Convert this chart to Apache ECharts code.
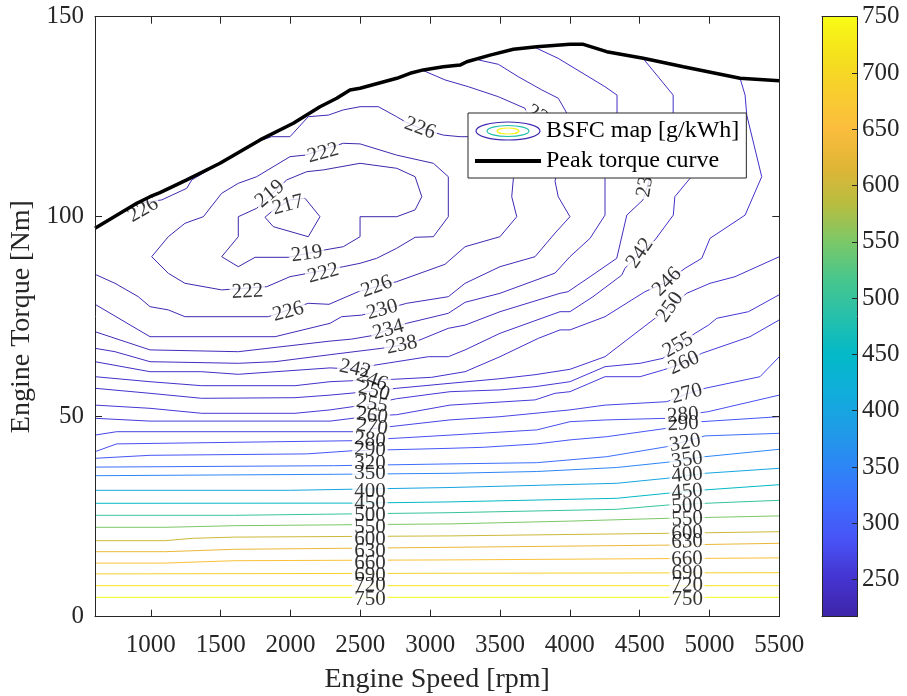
<!DOCTYPE html>
<html><head><meta charset="utf-8">
<script src="https://cdn.jsdelivr.net/npm/echarts@6/dist/echarts.min.js"></script>
<style>html,body{margin:0;padding:0;background:#fff}#c{width:907px;height:696px}</style>
</head><body><div id="c"></div>
<script>
// ---------- data (rpm, Nm) ----------
const xTicks = [1000,1500,2000,2500,3000,3500,4000,4500,5000,5500];
const yTicks = [0,50,100,150];
const cbTicks = [250,300,350,400,450,500,550,600,650,700,750];
const cbMin = 217, cbMax = 750;

const peakTorque = [[600,97.1],[899,103.35],[994,105.0],[1065,106.0],[1257,109.2],[1495,113.35],[1782,119.2],[2020,123.35],[2211,127.5],[2331,129.6],[2426,131.7],[2498,132.1],[2761,134.6],[2856,135.85],[2951,136.7],[3094,137.5],[3214,137.9],[3262,138.75],[3429,140.4],[3596,141.85],[3763,142.5],[4001,143.1],[4097,143.1],[4264,141.25],[4526,139.6],[4813,137.5],[5219,134.6],[5500,134.0]];

const contour217 = [[2104,104.6],[2211,100.0],[2127,95.0],[1877,97.5],[1817,99.85],[1872,101.5],[1996,104.2],[2104,104.6]];
const contour219 = [[1758,102.1],[1626,100.0],[1626,95.0],[1507,90.0],[1626,87.5],[1746,89.85],[1984,89.85],[2247,91.7],[2378,92.5],[2498,95.0],[2498,100.0],[2761,100.0],[2892,101.7],[2940,105.0],[2892,110.0],[2761,112.1],[2498,113.35],[2235,111.7],[2116,111.25],[1973,109.2],[1758,102.1]];
const contour222 = [[2104,115.4],[2378,118.35],[2498,118.2],[2760,115.4],[3023,113.35],[3130,110.0],[3130,100.0],[3023,95.0],[2892,94.85],[2760,92.1],[2617,89.6],[2498,88.35],[2378,87.5],[1996,85.0],[1830,82.5],[1507,81.7],[1244,83.35],[1125,85.85],[1006,90.0],[1125,95.0],[1244,98.35],[1376,100.0],[1507,105.85],[1626,108.35],[1758,110.0],[1996,115.0],[2104,115.4]];
const contour226 = [[899,103.3],[1078,104.2],[1257,107.1],[1293,109.2],[1495,113.35],[1746,118.6],[1865,120.0],[1996,120.0],[2127,125.0],[2271,125.4],[2378,126.7],[2498,127.5],[2629,127.5],[2760,125.0],[2820,123.75],[2927,122.1],[3094,120.4],[3214,120.0],[3273,120.0],[3596,109.6],[3584,105.0],[3620,100.0],[3500,95.0],[3250,92.5],[3106,88.1],[2760,83.75],[2617,82.5],[2485,81.25],[2276,78.1],[2127,78.35],[1984,76.7],[1841,75.0],[1244,75.0],[1125,76.7],[994,77.5],[910,80.0],[743,83.35],[600,85.6]];
const contour230 = [[600,78.1],[994,70.0],[1889,70.0],[2283,73.35],[2366,75.0],[2509,75.4],[2657,76.7],[2832,78.35],[3130,80.0],[3250,83.35],[3500,87.5],[3751,90.0],[3894,95.9],[4001,100.0],[3917,105.0],[3894,108.9],[3906,110.5],[3679,127.1],[3488,130.0],[3273,132.5],[3106,134.2],[2940,136.7]];
const contour234 = [[600,71.25],[994,66.7],[1626,66.25],[2283,68.9],[2438,69.4],[2581,70.25],[2700,71.7],[2832,73.35],[3130,75.85],[3250,78.6],[3500,80.85],[3894,85.9],[4001,90.0],[4145,94.6],[4252,100.4],[4252,109.6],[3986,125.4],[3918,129.6],[3799,131.7],[3631,135.0],[3488,138.1],[3345,139.2]];
const contour238 = [[600,67.1],[743,66.25],[994,63.75],[1626,63.35],[1889,63.75],[2283,65.5],[2653,67.1],[2796,67.9],[2927,69.2],[3130,72.1],[3250,72.9],[3500,76.25],[3930,80.85],[3987,81.25],[4145,85.0],[4336,89.6],[4408,100.4],[4524,104.2],[4574,109.6],[4338,125.4],[4338,130.4],[4252,132.5],[3916,139.6],[3751,142.3]];
const contour242 = [[600,63.75],[994,61.25],[1364,61.25],[1626,60.6],[2283,62.2],[2462,61.9],[2605,62.9],[2987,65.0],[3130,65.0],[3250,66.7],[3500,70.85],[3930,76.25],[4001,76.25],[4166,80.0],[4372,85.4],[4395,87.1],[4503,90.9],[4610,94.2],[4741,100.4],[4752,105.0],[4861,109.6],[4740,125.4],[4740,130.4],[4524,139.6]];
const contour246 = [[600,60.0],[994,58.75],[1364,57.75],[2032,57.75],[2283,58.75],[2584,59.2],[2736,59.35],[3011,59.85],[3250,61.25],[3500,65.0],[3775,69.6],[3930,71.7],[4001,71.7],[4252,75.0],[4538,81.25],[4696,83.7],[4825,87.1],[4945,89.6],[5004,94.6],[5255,100.4],[5374,110.0],[5267,125.4],[5255,130.4],[5219,134.6]];
const contour250 = [[600,57.1],[994,55.85],[1364,54.6],[2032,54.75],[2283,55.4],[2598,56.4],[2760,57.1],[3142,58.35],[3500,59.5],[3751,60.5],[4001,61.85],[4252,65.0],[4610,74.6],[4718,77.4],[4837,80.85],[5004,83.35],[5183,85.0],[5500,90.0]];
const contour255 = [[600,52.9],[994,52.1],[1364,50.85],[2032,50.85],[2283,51.7],[2584,53.2],[2760,54.5],[3142,56.25],[3500,56.7],[3751,57.5],[4001,58.75],[4252,62.5],[4503,63.35],[4667,64.6],[4775,67.9],[4897,70.85],[4993,72.9],[5052,74.6],[5279,76.25],[5500,80.5]];
const contour260 = [[600,49.6],[994,48.9],[2283,48.9],[2584,50.2],[2760,50.5],[3142,52.9],[3751,54.2],[3894,55.85],[4001,56.25],[4252,60.0],[4503,60.0],[4670,61.7],[4818,63.4],[4945,65.85],[5290,70.0],[5500,74.2]];
const contour270 = [[600,45.4],[755,46.25],[2450,46.25],[2584,47.0],[3142,49.2],[3500,50.0],[4001,51.7],[4252,52.9],[4694,53.75],[4837,55.7],[4968,57.1],[5362,60.0],[5500,65.0]];
const contour280 = [[600,41.25],[755,43.2],[2450,44.0],[3142,45.4],[3763,46.7],[4001,48.75],[4264,49.2],[4694,49.6],[4811,50.4],[4990,51.25],[5500,55.4]];
const contour290 = [[600,39.6],[994,40.35],[2116,40.7],[2450,41.5],[3142,42.1],[3380,42.35],[3763,43.2],[4001,44.2],[4264,45.0],[4694,47.1],[4811,48.2],[4940,48.75],[5500,50.0]];
const contour320 = [[600,37.4],[2307,37.75],[3142,38.2],[3763,38.5],[4264,40.0],[4694,42.5],[4968,45.2],[5500,45.85]];
const contour350 = [[600,35.25],[2307,35.6],[3142,35.85],[3763,36.3],[4336,37.3],[4694,38.6],[4968,40.0],[5500,41.85]];
const contour400 = [[600,31.6],[2000,31.6],[3142,32.3],[4336,33.35],[4694,34.6],[4968,35.85],[5500,37.1]];
const contour450 = [[600,28.35],[2500,28.4],[3142,28.7],[4336,29.6],[4694,30.85],[4968,31.7],[5500,33.0]];
const contour500 = [[600,25.35],[1600,25.35],[3142,26.0],[4336,26.85],[4694,27.9],[4968,28.35],[5500,29.1]];
const contour550 = [[600,22.35],[1100,22.35],[1600,22.75],[3142,23.2],[4000,23.9],[4700,24.6],[5500,25.2]];
const contour600 = [[600,19.0],[1100,19.0],[1300,19.6],[1600,19.9],[3142,20.2],[4700,20.85],[5500,21.25]];
const contour630 = [[600,16.25],[1100,16.25],[1600,16.85],[3142,17.35],[4700,17.9],[5500,18.35]];
const contour660 = [[600,13.4],[1100,13.4],[1600,14.0],[3142,14.2],[5500,14.7]];
const contour690 = [[600,10.7],[3000,10.85],[5500,11.0]];
const contour720 = [[600,7.75],[5500,7.75]];
const contour750 = [[600,4.85],[5500,4.85]];

// contour labels: [rpm, Nm, level, angle]
const contourLabels = [
 [945,101.7,226,30],[2927,122.1,226,-20],[2233,115.9,222,15],[1853,105.7,219,40],[1982,102.9,217,15],
 [2116,90.7,219,8],[2235,85.85,222,15],[1691,81.25,222,3],[1984,76.25,226,15],[2617,82.5,226,20],
 [2657,76.7,230,15],[2700,71.7,234,15],[2796,67.9,238,12],
 [2462,61.9,242,-12],[2584,59.2,246,-20],[2598,56.4,250,-15],[2584,53.2,255,-10],[2584,50.2,260,-8],
 [2584,47.4,270,-8],[2569,44.2,280,-5],[2569,41.7,290,-3],[2569,38.4,320,0],[2569,35.7,350,0],
 [2569,31.4,400,0],[2569,28.2,450,0],[2569,25.4,500,0],[2569,22.4,550,0],[2569,19.2,600,0],
 [2569,16.2,630,0],[2569,13.4,660,0],[2569,10.4,690,0],[2569,7.7,720,0],[2569,4.4,750,0],
 [3800,124.8,230,-30],[4545,108.8,238,80],[4503,90.9,242,55],[4696,83.7,246,45],[4718,77.4,250,55],
 [4775,67.9,255,30],[4818,63.4,260,25],[4837,55.7,270,15],[4811,50.4,280,5],[4811,48.2,290,3],
 [4825,43.4,320,10],[4840,39.2,350,8],[4840,35.4,400,5],[4840,31.2,450,5],[4840,27.7,500,3],
 [4840,24.4,550,3],[4840,20.9,600,3],[4840,18.7,630,2],[4840,14.4,660,2],[4840,10.9,690,0],
 [4840,7.7,720,0],[4840,4.4,750,0]
];

const contours = [
 [217,contour217],[219,contour219],[222,contour222],[226,contour226],[230,contour230],[234,contour234],
 [238,contour238],[242,contour242],[246,contour246],[250,contour250],[255,contour255],[260,contour260],
 [270,contour270],[280,contour280],[290,contour290],[320,contour320],[350,contour350],[400,contour400],
 [450,contour450],[500,contour500],[550,contour550],[600,contour600],[630,contour630],[660,contour660],
 [690,contour690],[720,contour720],[750,contour750]
];

// ---------- colormap (parula) ----------
const parula = [
 [0.000,'#3e26a8'],[0.063,'#4433cf'],[0.125,'#4852f4'],[0.188,'#3d6cfd'],[0.250,'#2d86f6'],
 [0.313,'#1f9ce6'],[0.375,'#10aedb'],[0.438,'#03b9c7'],[0.500,'#26c0ab'],[0.563,'#48c68c'],
 [0.625,'#7cc868'],[0.688,'#b8bd40'],[0.750,'#e0b536'],[0.813,'#fbbd3d'],[0.875,'#f8cd2e'],
 [0.938,'#f4e21c'],[1.000,'#f9fb15']
];
function hex2rgb(h){return [parseInt(h.slice(1,3),16),parseInt(h.slice(3,5),16),parseInt(h.slice(5,7),16)];}
function parulaColor(v){
  let t = (v-cbMin)/(cbMax-cbMin); t = Math.max(0,Math.min(1,t));
  for (let i=0;i<parula.length-1;i++){
    const a=parula[i], b=parula[i+1];
    if (t<=b[0]){
      const f=(t-a[0])/(b[0]-a[0]); const ca=hex2rgb(a[1]), cb=hex2rgb(b[1]);
      const c=ca.map((x,k)=>Math.round(x+(cb[k]-x)*f));
      return 'rgb('+c.join(',')+')';
    }
  }
  return parula[parula.length-1][1];
}

const FONT = 'Liberation Serif';
const AX = '#262626';
const BSFC = 'BSFC map [g/kWh]';
const PEAK = 'Peak torque curve';

const iconSvg = "<svg xmlns='http://www.w3.org/2000/svg' width='66' height='22' viewBox='0 0 66 22'>"+
 "<ellipse cx='33' cy='11' rx='32' ry='9' fill='none' stroke='"+parulaColor(226)+"' stroke-width='1.2'/>"+
 "<ellipse cx='33' cy='11' rx='21' ry='5.5' fill='none' stroke='"+parulaColor(480)+"' stroke-width='1.2'/>"+
 "<ellipse cx='33' cy='11' rx='11' ry='3' fill='none' stroke='"+parulaColor(740)+"' stroke-width='1.2'/></svg>";
const iconUrl = 'image://data:image/svg+xml;charset=utf-8,' + encodeURIComponent(iconSvg);
const lineSvg = "<svg xmlns='http://www.w3.org/2000/svg' width='66' height='22' viewBox='0 0 66 22'>"+
 "<line x1='0' y1='11' x2='66' y2='11' stroke='#000' stroke-width='4'/></svg>";
const lineUrl = 'image://data:image/svg+xml;charset=utf-8,' + encodeURIComponent(lineSvg);

const series = [];
contours.forEach(([lvl, pts]) => {
  series.push({
    type:'line', name:BSFC, data:pts, showSymbol:false, symbol:'none', silent:true,
    lineStyle:{color:parulaColor(lvl), width:1}, itemStyle:{color:parulaColor(lvl)}, z:2
  });
});
const labelData = contourLabels.map(l => ({value:[l[0],l[1],l[2]], label:{rotate:l[3]}}));
series.push({
  type:'scatter', name:'lblbg', data:labelData, symbolSize:0, silent:true, z:3,
  label:{show:true, position:'inside', formatter:p=>String(p.value[2]), fontFamily:FONT, fontSize:21,
    color:'rgba(0,0,0,0)', backgroundColor:'#fff', padding:[0,2]}
});
series.push({
  type:'scatter', name:'lbltx', data:labelData, symbolSize:0, silent:true, z:4,
  label:{show:true, position:'inside', formatter:p=>String(p.value[2]), fontFamily:FONT, fontSize:21,
    color:'#000', padding:[0,2]}
});
series.push({
  type:'line', name:PEAK, data:peakTorque, showSymbol:false, symbol:'none', silent:true,
  lineStyle:{color:'#000', width:3.5}, itemStyle:{color:'#000'}, z:5
});
// colorbar
series.push({type:'bar', xAxisIndex:2, yAxisIndex:2, stack:'cb', data:[cbMin], barWidth:'100%',
  itemStyle:{color:'rgba(0,0,0,0)'}, silent:true});
series.push({type:'bar', xAxisIndex:2, yAxisIndex:2, stack:'cb', data:[cbMax-cbMin], barWidth:'100%', silent:true,
  itemStyle:{color:new echarts.graphic.LinearGradient(0,1,0,0, parula.map(s=>({offset:s[0], color:s[1]})))}});

const plain = v => String(v);
const option = {
  animation:false,
  backgroundColor:'#fff',
  grid:[
    {left:95, top:16.7, width:684.3, height:600, containLabel:false, outerBoundsMode:'none'},
    {left:822, top:16.7, width:35, height:600, containLabel:false, outerBoundsMode:'none'}
  ],
  legend:{
    data:[{name:BSFC, icon:iconUrl},{name:PEAK, icon:lineUrl}],
    orient:'vertical', left:468, top:113, z:10,
    backgroundColor:'#fff', borderColor:AX, borderWidth:1, borderRadius:0,
    padding:[5,7,4,7], itemGap:4, itemWidth:66, itemHeight:22,
    textStyle:{fontFamily:FONT, fontSize:24, color:'#000', lineHeight:26},
    selectedMode:false
  },
  xAxis:[
    {type:'value', gridIndex:0, min:600, max:5500, position:'bottom', z:10,
     name:'Engine Speed [rpm]', nameLocation:'middle', nameGap:49,
     nameTextStyle:{fontFamily:FONT, fontSize:28, color:AX},
     axisLine:{show:true, onZero:false, lineStyle:{color:AX}},
     axisTick:{show:true, inside:true, length:7, customValues:xTicks, lineStyle:{color:AX}},
     axisLabel:{show:true, customValues:xTicks, formatter:plain, margin:16, fontFamily:FONT, fontSize:25, color:AX},
     splitLine:{show:false}},
    {type:'value', gridIndex:0, min:600, max:5500, position:'top', z:10,
     axisLine:{show:true, onZero:false, lineStyle:{color:AX}},
     axisTick:{show:true, inside:true, length:7, customValues:xTicks, lineStyle:{color:AX}},
     axisLabel:{show:false}, splitLine:{show:false}},
    {type:'category', gridIndex:1, data:['cb'], position:'bottom', z:10,
     axisLine:{show:true, onZero:false, lineStyle:{color:AX}}, axisTick:{show:false}, axisLabel:{show:false}},
    {type:'category', gridIndex:1, data:['cb'], position:'top', z:10,
     axisLine:{show:true, onZero:false, lineStyle:{color:AX}}, axisTick:{show:false}, axisLabel:{show:false}}
  ],
  yAxis:[
    {type:'value', gridIndex:0, min:0, max:150, interval:50, position:'left', z:10,
     name:'Engine Torque [Nm]', nameLocation:'middle', nameGap:55,
     nameTextStyle:{fontFamily:FONT, fontSize:28, color:AX},
     axisLine:{show:true, onZero:false, lineStyle:{color:AX}},
     axisTick:{show:true, inside:true, length:7, lineStyle:{color:AX}},
     axisLabel:{show:true, margin:11, formatter:plain, fontFamily:FONT, fontSize:25, color:AX},
     splitLine:{show:false}},
    {type:'value', gridIndex:0, min:0, max:150, interval:50, position:'right', z:10,
     axisLine:{show:true, onZero:false, lineStyle:{color:AX}},
     axisTick:{show:true, inside:true, length:7, lineStyle:{color:AX}},
     axisLabel:{show:false}, splitLine:{show:false}},
    {type:'value', gridIndex:1, min:cbMin, max:cbMax, position:'right', z:10,
     axisLine:{show:true, onZero:false, lineStyle:{color:AX}},
     axisTick:{show:true, inside:true, length:5, customValues:cbTicks, lineStyle:{color:AX}},
     axisLabel:{show:true, customValues:cbTicks, formatter:plain, margin:5, fontFamily:FONT, fontSize:25, color:AX},
     splitLine:{show:false}},
    {type:'value', gridIndex:1, min:cbMin, max:cbMax, position:'left', z:10,
     axisLine:{show:true, onZero:false, lineStyle:{color:AX}},
     axisTick:{show:false}, axisLabel:{show:false}, splitLine:{show:false}}
  ],
  series:series
};
const chart = echarts.init(document.getElementById('c'), null, {renderer:'canvas'});
chart.setOption(option);
</script>
</body></html>
